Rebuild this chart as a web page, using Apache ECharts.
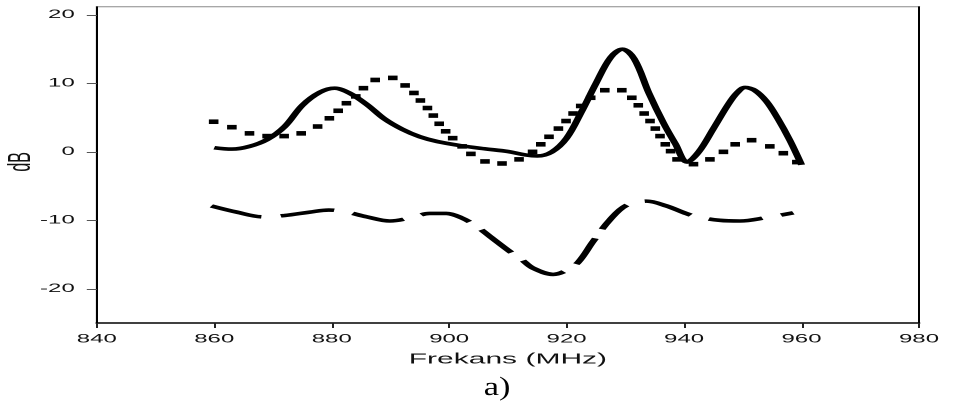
<!DOCTYPE html>
<html>
<head>
<meta charset="utf-8">
<script src="https://cdn.jsdelivr.net/npm/echarts@6/dist/echarts.min.js"></script>
<style>
html,body{margin:0;padding:0;background:#fff;}
#wrap{width:970px;height:408px;overflow:hidden;position:relative;}
#c{width:485px;height:408px;transform:scaleX(2);transform-origin:0 0;}
</style>
</head>
<body>
<div id="wrap"><div id="c"></div></div>
<script>
// X axis ticks
const xMin = 840, xMax = 980, xStep = 20;
const yTicks = [-20, -10, 0, 10, 20];

// Solid curve
const solidFreq = [860, 863, 866, 869, 872, 875, 878, 880.5, 883, 886, 889, 892, 895, 898, 902, 906, 910, 913, 915, 917.5, 920, 922.5, 925, 927.5, 929.5, 931.5, 934, 936.5, 938.5, 940.5, 942.5, 945, 947.5, 949, 950.4, 952, 954, 956, 958, 960];
const solidDb   = [0.6, 0.4, 0.8, 1.8, 3.7, 6.8, 8.7, 9.3, 8.6, 6.9, 4.8, 3.3, 2.2, 1.5, 0.9, 0.45, 0.05, -0.45, -0.6, 0.0, 2.0, 5.8, 10.0, 13.8, 15.0, 13.6, 8.6, 4.2, 1.2, -1.5, 0.0, 3.4, 6.9, 8.6, 9.4, 9.0, 7.4, 4.8, 1.7, -1.9];

// Short-dash (marker) curve
const dashFreq = [859.9, 863.0, 866.0, 869.0, 871.9, 874.8, 877.6, 879.6, 881.1, 882.5, 884.1, 885.4, 887.4, 890.4, 892.5, 894.0, 895.1, 896.3, 897.3, 898.3, 899.4, 900.6, 902.2, 903.7, 906.1, 909.0, 911.9, 914.2, 915.6, 917.0, 918.6, 919.9, 921.1, 922.4, 924.1, 926.5, 929.4, 931.1, 932.2, 933.2, 934.2, 935.1, 935.9, 936.8, 937.7, 938.8, 941.6, 944.4, 946.7, 948.7, 951.5, 954.6, 956.9, 959.2];
const dashDb   = [4.4, 3.6, 2.7, 2.3, 2.3, 2.7, 3.7, 4.9, 6.0, 7.1, 8.1, 9.3, 10.5, 10.8, 9.7, 8.6, 7.5, 6.4, 5.3, 4.1, 3.0, 2.0, 0.8, -0.3, -1.4, -1.7, -1.1, 0.0, 1.1, 2.2, 3.4, 4.5, 5.6, 6.7, 7.9, 9.0, 9.0, 7.9, 6.8, 5.6, 4.5, 3.4, 2.3, 1.1, 0.1, -1.1, -1.8, -1.1, 0.0, 1.1, 1.7, 0.8, -0.2, -1.5];

// Long-dash curve
const longFreq = [859.5, 863.8, 868.3, 872, 876.3, 879.5, 882, 886, 889.9, 893.6, 896.7, 899.5, 902, 904.7, 907, 910.4, 912.3, 914.3, 917.7, 920, 922, 924.5, 927.4, 930.2, 933.6, 937, 940, 942.2, 946.1, 949.5, 954, 958.6];
const longDb   = [-7.9, -8.8, -9.5, -9.3, -8.8, -8.5, -8.7, -9.5, -10.1, -9.6, -9.0, -9.0, -9.6, -10.9, -12.4, -14.6, -15.7, -17.0, -17.9, -17.3, -16.1, -13.1, -9.9, -7.8, -7.2, -7.9, -8.9, -9.5, -10.0, -10.1, -9.6, -8.9];

const pairs = (xs, ys) => xs.map((x, i) => [x, ys[i]]);

const chart = echarts.init(document.getElementById('c'), null, {renderer: 'canvas', devicePixelRatio: 2});
const font = 'Liberation Sans';
chart.setOption({
  animation: false,
  grid: {left: 48.4, right: 25.5, top: 6.7, bottom: 85, show: true, borderColor: '#8a8a8a', borderWidth: 1, containLabel: false, outerBoundsMode: 'none'},
  xAxis: [{
    type: 'value', min: xMin, max: xMax, interval: xStep,
    axisLine: {show: true, onZero: false, lineStyle: {color: '#000', width: 1.5}},
    axisTick: {show: true, length: 5, lineStyle: {color: '#222', width: 1}},
    axisLabel: {fontSize: 12, fontFamily: font, color: '#111', margin: 10},
    splitLine: {show: false},
    name: 'Frekans (MHz)', nameLocation: 'middle', nameGap: 29, nameMoveOverlap: false,
    nameTextStyle: {fontSize: 15, fontFamily: font, color: '#111'}
  }],
  yAxis: [{
    type: 'value', min: -25, max: 21.2,
    axisLine: {show: true, onZero: false, lineStyle: {color: '#000', width: 1}},
    axisTick: {show: true, length: 5, customValues: yTicks, lineStyle: {color: '#555', width: 1}},
    axisLabel: {customValues: yTicks, fontSize: 12, fontFamily: font, color: '#111', margin: 11},
    splitLine: {show: false},
    name: 'dB', nameLocation: 'middle', nameGap: 30, nameRotate: 90, nameMoveOverlap: false,
    nameTextStyle: {fontSize: 16, fontFamily: font, color: '#111', padding: [0, 0, 0, 6]}
  }, {
    type: 'value', min: -25, max: 21.2, position: 'right',
    axisLine: {show: true, onZero: false, lineStyle: {color: '#000', width: 1}},
    axisTick: {show: false}, axisLabel: {show: false}, splitLine: {show: false}
  }],
  series: [{
    type: 'line', data: pairs(solidFreq, solidDb), smooth: 0.35, showSymbol: false,
    lineStyle: {color: '#000', width: 3.6}, z: 3
  }, {
    type: 'line', data: pairs(longFreq, longDb), smooth: 0.35, showSymbol: false,
    lineStyle: {color: '#000', width: 3.6, type: [27.4, 9.8]}, z: 3
  }, {
    type: 'scatter', data: pairs(dashFreq, dashDb), symbol: 'rect', symbolSize: [4.8, 4.6],
    itemStyle: {color: '#000', opacity: 1}, z: 4
  }],
  graphic: [{
    type: 'text', x: 248.5, y: 388, scaleX: 0.66,
    style: {text: 'a)', fontSize: 26, fontFamily: 'Liberation Serif', fill: '#000', align: 'center', verticalAlign: 'middle'}
  }]
});
</script>
</body>
</html>
